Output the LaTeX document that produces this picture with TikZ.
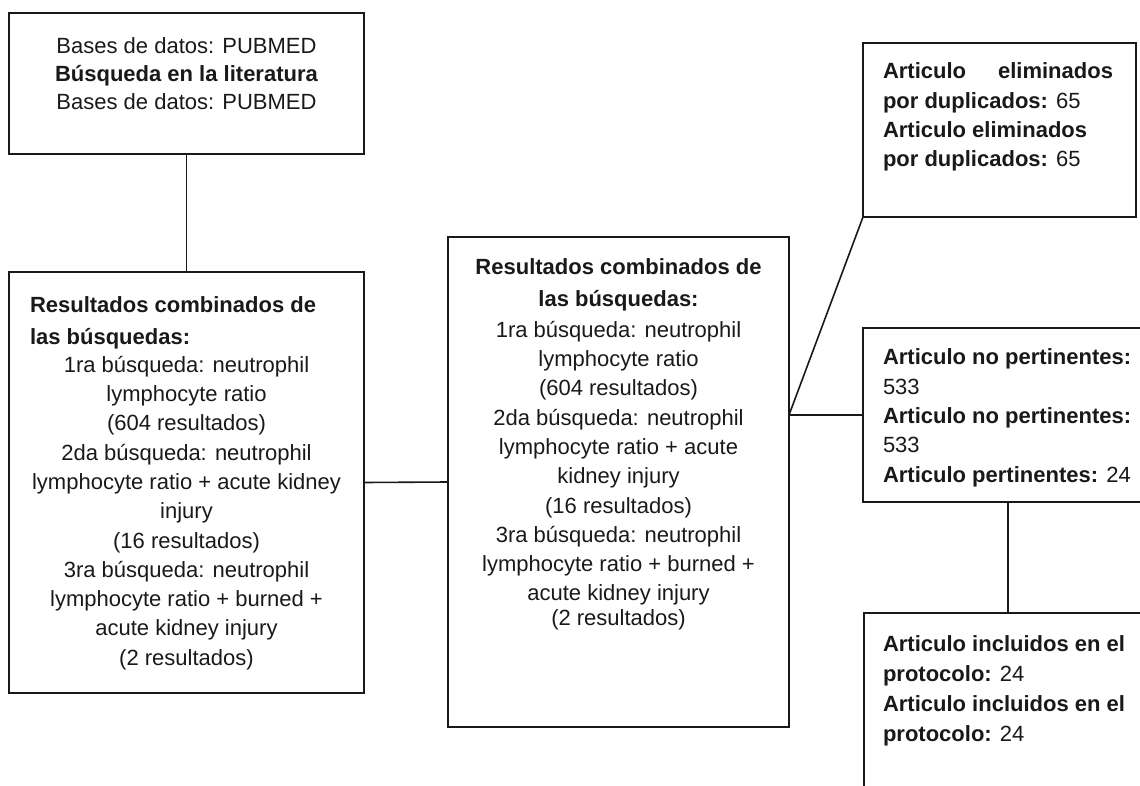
\documentclass[tikz,border=0pt]{standalone}
\usepackage{fontspec}
\setmainfont{Liberation Sans}
\begin{document}
\begin{tikzpicture}[x=1pt,y=-1pt,
  box/.style={draw=black!90, line width=2pt, inner sep=0pt, outer sep=0pt},
  link/.style={draw=black!90, line width=1.6pt},
  txt/.style={inner sep=0pt, outer sep=0pt, text=black!90},
  fa/.style={font=\fontsize{22}{28}\selectfont},
  fb/.style={font=\fontsize{22}{29.3}\selectfont},
  fc/.style={font=\fontsize{22}{32}\selectfont},
  fd/.style={font=\fontsize{22}{30}\selectfont}]
\useasboundingbox (0,0) rectangle (1140,786);
\clip (0,0) rectangle (1140,786);
% boxes
\node[box, minimum width=355pt, minimum height=141pt] (top) at (186.5,83.5) {};
\node[box, minimum width=355pt, minimum height=421pt] (left) at (186.5,482.5) {};
\node[box, minimum width=341pt, minimum height=490pt] (mid) at (618.5,482) {};
\node[box, minimum width=273pt, minimum height=174pt] (dup) at (999.5,130) {};
\node[box, minimum width=290pt, minimum height=174pt] (pert) at (1008,415) {};
\node[box, minimum width=288pt, minimum height=200pt] (incl) at (1008,713) {};
% texts
\node[txt, fa, align=center, anchor=north] (toptxt) at (186.5,38)
  {Bases de datos: PUBMED\\\textbf{Búsqueda en la literatura}\\Bases de datos: PUBMED};
\node[txt, fc, align=left, anchor=north west] (lefthead) at (30,297)
  {\textbf{Resultados combinados de}\\\textbf{las búsquedas:}};
\node[txt, fb, align=center, anchor=north] (leftbody) at (186.5,356)
  {1ra búsqueda: neutrophil\\lymphocyte ratio\\(604 resultados)\\2da búsqueda: neutrophil\\lymphocyte ratio + acute kidney\\injury\\(16 resultados)\\3ra búsqueda: neutrophil\\lymphocyte ratio + burned +\\acute kidney injury\\(2 resultados)};
\node[txt, fc, align=center, anchor=north] (midhead) at (618.5,259)
  {\textbf{Resultados combinados de}\\\textbf{las búsquedas:}};
\node[txt, fb, align=center, anchor=north] (midbody) at (618.5,321)
  {1ra búsqueda: neutrophil\\lymphocyte ratio\\(604 resultados)\\2da búsqueda: neutrophil\\lymphocyte ratio + acute\\kidney injury\\(16 resultados)\\3ra búsqueda: neutrophil\\lymphocyte ratio + burned +\\acute kidney injury\\[-5pt](2 resultados)};
\node[txt, fb, align=left, anchor=north west] (duptxt) at (883,63)
  {\hbox to 230pt{\textbf{Articulo}\hfill\textbf{eliminados}}\\\textbf{por duplicados:} 65\\\textbf{Articulo eliminados}\\\textbf{por duplicados:} 65};
\node[txt, fb, align=left, anchor=north west] (perttxt) at (883,349)
  {\textbf{Articulo no pertinentes:}\\533\\\textbf{Articulo no pertinentes:}\\533\\\textbf{Articulo pertinentes:} 24};
\node[txt, fd, align=left, anchor=north west] (incltxt) at (883,636)
  {\textbf{Articulo incluidos en el}\\\textbf{protocolo:} 24\\\textbf{Articulo incluidos en el}\\\textbf{protocolo:} 24};
% connectors
\coordinate (j) at (mid.east |- pert.west);
\draw[link] (top.south) -- (left.north);
\draw[link] (left.east) -- (mid.west);
\draw[link] (j) -- (pert.west);
\draw[link] (j) -- (dup.south west);
\draw[link] (pert.south) -- (incl.north);
\end{tikzpicture}
\end{document}
